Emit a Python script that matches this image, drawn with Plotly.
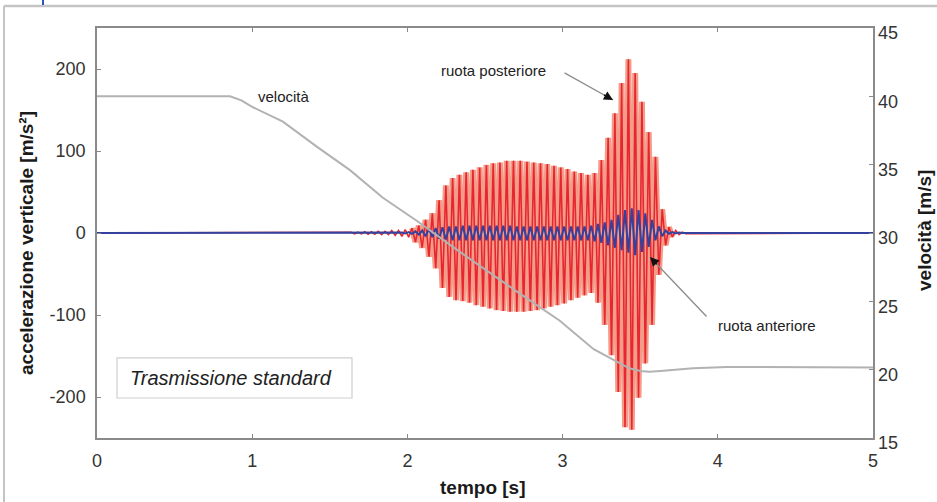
import plotly.graph_objects as go

# --- data -------------------------------------------------------------
# rear wheel (ruota posteriore): successive positive / negative peaks [m/s^2]
red_t_first = 1.638          # time of first listed positive peak [s]
red_period = 0.04356         # oscillation period [s]
red_pos = [1, 1, 1.5, 1.5, 2, 2, 3, 3,
           4, 6, 9, 16, 24, 40, 58, 67, 71, 74,
           77, 80, 83, 85, 86, 88, 88, 88, 87, 86,
           85, 84, 82, 80, 78, 75, 73, 71, 73, 89,
           116, 146, 183, 212, 195, 160, 123, 93, 29, 7,
           3, 1]
red_neg = [-1, -1, -1.5, -1.5, -2, -2, -3, -4,
           -5, -11, -18, -29, -43, -67, -78, -82, -83, -85,
           -88, -90, -92, -94, -95, -96, -96, -96, -95, -94,
           -92, -90, -88, -86, -82, -79, -76, -73, -85, -112,
           -149, -194, -237, -240, -201, -159, -112, -51, -15, -5,
           -2, -1]

# front wheel (ruota anteriore): peaks on the same time grid
blue_pos = [0, 0, 0, 0, 0, 0, 0, 0,
            0.5, 1, 2, 3, 5, 6, 7, 8, 8, 9,
            9, 9, 9, 9, 9, 9, 9, 8, 8, 8,
            8, 8, 8, 8, 8, 8, 8, 8, 9, 11,
            13, 16, 22, 28, 30, 28, 24, 16, 8, 3,
            1, 0.5]
blue_neg = [0, 0, 0, 0, 0, 0, 0, 0,
            -0.5, -1, -2, -4, -5, -7, -8, -9, -9, -9,
            -9, -9, -9, -9, -9, -9, -9, -9, -9, -9,
            -9, -9, -9, -9, -9, -9, -9, -9, -10, -12,
            -15, -18, -21, -24, -27, -23, -17, -9, -4, -1,
            -0.5, 0]

# vehicle speed [m/s]
vel_t = [0, 0.857, 0.93, 1.005, 1.198, 1.418, 1.63, 1.84, 2.06, 2.23, 2.34,
         2.72, 2.98, 3.20, 3.35, 3.43, 3.50, 3.56, 3.63, 3.84, 4.06, 4.49, 5.0]
vel_v = [40.0, 40.0, 39.7, 39.2, 38.15, 36.3, 34.6, 32.6, 30.9, 29.5, 28.6,
         25.6, 23.6, 21.5, 20.6, 20.1, 19.9, 19.85, 19.9, 20.1, 20.2, 20.2, 20.15]

t_min, t_max = 0, 5
x_ticks = [0, 1, 2, 3, 4, 5]
acc_ticks = [-200, -100, 0, 100, 200]
acc_labels = ["-200", "-100", "0", "100", "200"]
vel_ticks = [15, 20, 25, 30, 35, 40, 45]

# --- build signal paths from the peak lists ----------------------------
n = len(red_pos)
peak_t = [red_t_first + k * red_period for k in range(n)]
half = red_period / 2

red_x, red_y = [t_min], [0]
halo_x, halo_y = [], []
for k in range(n):
    red_x += [peak_t[k], peak_t[k] + half]
    red_y += [red_pos[k], red_neg[k]]
    if red_pos[k] >= 5:          # halo only on the strong part of the burst
        halo_x += [peak_t[k], peak_t[k] + half]
        halo_y += [red_pos[k], red_neg[k]]
red_x.append(t_max)
red_y.append(0)

blue_x, blue_y = [t_min], [0]
for k in range(n):
    blue_x += [peak_t[k] - half, peak_t[k]]
    blue_y += [blue_pos[k], blue_neg[k]]
blue_x.append(t_max)
blue_y.append(0)

FONT = "Liberation Sans, Arial, sans-serif"
AXIS_GREY = "#8a8a8a"

fig = go.Figure()
# soft halo under the rear-wheel trace, then the trace itself
fig.add_trace(go.Scatter(x=halo_x, y=halo_y, mode="lines",
                         line=dict(color="#f39c8a", width=6),
                         hoverinfo="skip"))
fig.add_trace(go.Scatter(x=red_x, y=red_y, mode="lines",
                         line=dict(color="#e8262e", width=1.6)))
fig.add_trace(go.Scatter(x=blue_x, y=blue_y, mode="lines",
                         line=dict(color="#34419e", width=2)))
fig.add_trace(go.Scatter(x=vel_t, y=vel_v, mode="lines", yaxis="y2",
                         line=dict(color="#b2b2b2", width=2)))

tick_font = dict(family=FONT, size=18, color="#333333")

fig.update_layout(
    width=937, height=502,
    margin=dict(l=97, r=64, t=28, b=64),
    paper_bgcolor="white", plot_bgcolor="white",
    showlegend=False,
    font=dict(family=FONT),
    xaxis=dict(range=[t_min, t_max], tickvals=x_ticks, ticks="inside",
               ticklen=4, tickcolor=AXIS_GREY, showline=True,
               linecolor=AXIS_GREY, linewidth=1.5, mirror="ticks",
               showgrid=False, zeroline=False, tickfont=tick_font,
               ticklabelstandoff=6),
    yaxis=dict(range=[-250, 250], tickvals=acc_ticks, ticktext=acc_labels,
               ticks="inside", ticklen=4, tickcolor=AXIS_GREY,
               showline=True, linecolor=AXIS_GREY, linewidth=1.5,
               mirror=True, showgrid=False, zeroline=False,
               tickfont=tick_font, ticklabelstandoff=6),
    yaxis2=dict(range=[15, 45], tickvals=vel_ticks, overlaying="y",
                side="right", ticks="inside", ticklen=4,
                tickcolor=AXIS_GREY, showline=False, showgrid=False,
                zeroline=False, tickfont=tick_font, ticklabelshift=5,
                ticklabelstandoff=4),
)

# axis titles
title_font = dict(family=FONT, size=19, color="#1a1a1a")
fig.add_annotation(text="<b>tempo [s]</b>", xref="paper", yref="paper",
                   x=(483 - 97) / 776, y=-(487 - 438) / 410,
                   xanchor="center", yanchor="middle",
                   showarrow=False, font=title_font)
fig.add_annotation(text="<b>accelerazione verticale [m/s²]</b>", xref="paper",
                   yref="paper", x=(26 - 97) / 776, y=(438 - 243) / 410,
                   xanchor="center", yanchor="middle",
                   textangle=-90, showarrow=False, font=title_font)
fig.add_annotation(text="<b>velocità [m/s]</b>", xref="paper", yref="paper",
                   x=(924 - 97) / 776, y=(438 - 231) / 410,
                   xanchor="center", yanchor="middle",
                   textangle=-90, showarrow=False, font=title_font)

# curve labels
lab_font = dict(family=FONT, size=15, color="#222222")
fig.add_annotation(text="velocità", x=1.208, y=167, showarrow=False,
                   font=lab_font)
fig.add_annotation(text="ruota posteriore", x=2.552, y=197.6,
                   showarrow=False, font=lab_font)
fig.add_annotation(text="ruota anteriore", x=4.314, y=-113.4,
                   showarrow=False, font=lab_font)

# leader lines (grey shaft, black head)
for hx, hy, dx, dy in [(3.325, 162.2, -50, -28), (3.563, -29.3, 58, 61)]:
    fig.add_annotation(x=hx, y=hy, ax=dx, ay=dy, text="", showarrow=True,
                       arrowhead=0, arrowwidth=1.3, arrowcolor="#8c8c8c")
    L = (dx * dx + dy * dy) ** 0.5
    fig.add_annotation(x=hx, y=hy, ax=dx / L * 12, ay=dy / L * 12, text="",
                       showarrow=True, arrowhead=2, arrowsize=1.3,
                       arrowwidth=1.4, arrowcolor="#111111")

# caption box
fig.add_shape(type="rect", xref="x", yref="y", x0=0.129, x1=1.643,
              y0=-201.2, y1=-152.4, line=dict(color="#cfcfcf", width=1.2),
              fillcolor="white")
fig.add_annotation(text="<i>Trasmissione standard</i>", x=0.2, y=-176.8,
                   xanchor="left", showarrow=False,
                   font=dict(family=FONT, size=20, color="#222222"))

# outer frame
fig.add_shape(type="line", xref="paper", yref="paper",
              x0=(4 - 97) / 776, x1=(937 - 97) / 776,
              y0=(438 - 6) / 410, y1=(438 - 6) / 410,
              line=dict(color="#c4c4c4", width=2.5))
fig.add_shape(type="line", xref="paper", yref="paper",
              x0=(4 - 97) / 776, x1=(4 - 97) / 776,
              y0=(438 - 6) / 410, y1=(438 - 502) / 410,
              line=dict(color="#c4c4c4", width=2))
fig.add_shape(type="line", xref="paper", yref="paper",
              x0=(43 - 97) / 776, x1=(43 - 97) / 776,
              y0=(438 - 0) / 410, y1=(438 - 5) / 410,
              line=dict(color="#2a56b8", width=2))

fig.write_html("out.html")
